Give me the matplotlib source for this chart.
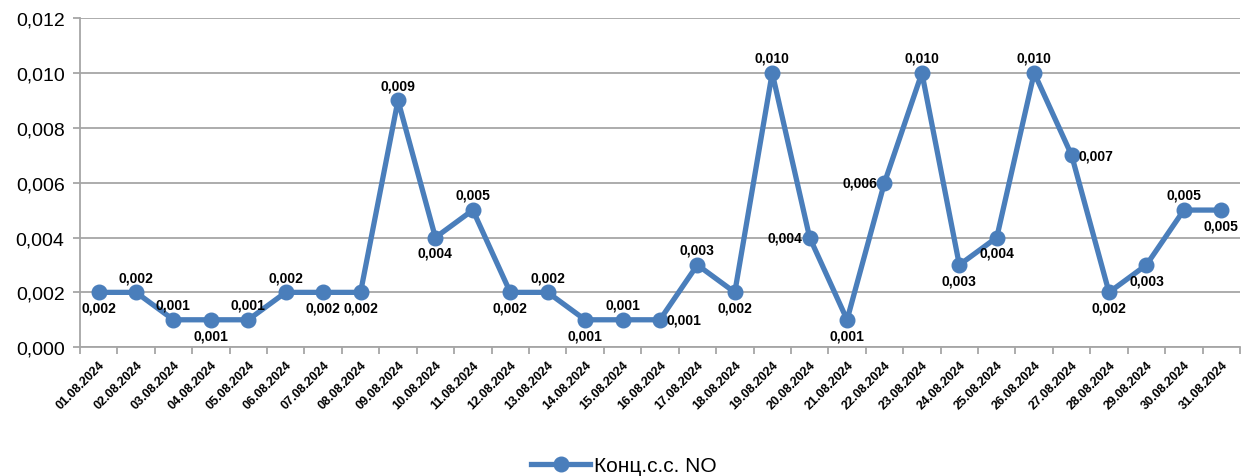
import matplotlib
matplotlib.use("Agg")
import matplotlib.pyplot as plt
from matplotlib.ticker import FuncFormatter, FixedLocator
from matplotlib.lines import Line2D
import numpy as np

plt.rcParams['font.family'] = ['Liberation Sans', 'DejaVu Sans']

dates = ["01.08.2024", "02.08.2024", "03.08.2024", "04.08.2024", "05.08.2024",
         "06.08.2024", "07.08.2024", "08.08.2024", "09.08.2024", "10.08.2024",
         "11.08.2024", "12.08.2024", "13.08.2024", "14.08.2024", "15.08.2024",
         "16.08.2024", "17.08.2024", "18.08.2024", "19.08.2024", "20.08.2024",
         "21.08.2024", "22.08.2024", "23.08.2024", "24.08.2024", "25.08.2024",
         "26.08.2024", "27.08.2024", "28.08.2024", "29.08.2024", "30.08.2024",
         "31.08.2024"]
values = [0.002, 0.002, 0.001, 0.001, 0.001, 0.002, 0.002, 0.002, 0.009, 0.004,
          0.005, 0.002, 0.002, 0.001, 0.001, 0.001, 0.003, 0.002, 0.010, 0.004,
          0.001, 0.006, 0.010, 0.003, 0.004, 0.010, 0.007, 0.002, 0.003, 0.005,
          0.005]
# label placement: a=above, b=below, l=left, r=right
label_pos = ["b", "a", "a", "b", "a", "a", "b", "b", "a", "b",
             "a", "b", "a", "b", "a", "r", "a", "b", "a", "l",
             "b", "l", "a", "b", "b", "a", "r", "b", "b", "a",
             "b"]
series_name = "Конц.с.с. NO"
yticks = [0.000, 0.002, 0.004, 0.006, 0.008, 0.010, 0.012]

color = "#4A7EBB"
grid_c = "#A6A6A6"

fig = plt.figure(figsize=(12.48, 4.77), dpi=100)
ax = fig.add_axes([0.064, 0.27, 0.9296, 0.69])

x = np.arange(len(values))
ax.plot(x, values, color=color, lw=3.8, marker='o', ms=10.5, mfc=color, mec=color, zorder=3,
        solid_joinstyle='round')

ax.set_xlim(-0.5, len(values) - 0.5)
ax.set_ylim(0, 0.012)
ax.set_yticks(yticks)
ax.yaxis.set_major_formatter(FuncFormatter(lambda v, p: f"{v:.3f}".replace('.', ',')))
ax.grid(axis='y', color=grid_c, lw=1.3, zorder=0)
ax.set_axisbelow(True)

ax.set_xticks(x)
ax.set_xticklabels(dates, rotation=45, ha='right', rotation_mode='anchor', fontsize=9,
                   fontweight='bold')
ax.xaxis.set_minor_locator(FixedLocator(np.arange(-0.5, len(values), 1.0)))
ax.tick_params(axis='x', which='major', length=0, pad=8)
ax.tick_params(axis='x', which='minor', length=5, color=grid_c, width=1.3)
ax.tick_params(axis='y', length=5, color=grid_c, width=1.3, labelsize=14, pad=6)

for s in ['top', 'right']:
    ax.spines[s].set_visible(False)
for s in ['left', 'bottom']:
    ax.spines[s].set_color(grid_c)
    ax.spines[s].set_linewidth(1.3)

for xi, v, p in zip(x, values, label_pos):
    txt = f"{v:.3f}".replace('.', ',')
    if p == 'a':
        off, ha, va = (0, 6), 'center', 'bottom'
    elif p == 'b':
        off, ha, va = (0, -6), 'center', 'top'
    elif p == 'l':
        off, ha, va = (-5, 0), 'right', 'center'
    else:
        off, ha, va = (5, 0), 'left', 'center'
    ax.annotate(txt, (xi, v), xytext=off, textcoords='offset points', ha=ha, va=va,
                fontsize=10, fontweight='bold', color='black', zorder=4)

handle = Line2D([], [], color=color, lw=3.8, marker='o', ms=10.5, mfc=color, mec=color)
fig.legend([handle], [series_name], loc='center', bbox_to_anchor=(0.5, 0.022),
           frameon=False, fontsize=15, handlelength=2.8, handletextpad=0.2)

fig.savefig("out.png", dpi=100)
